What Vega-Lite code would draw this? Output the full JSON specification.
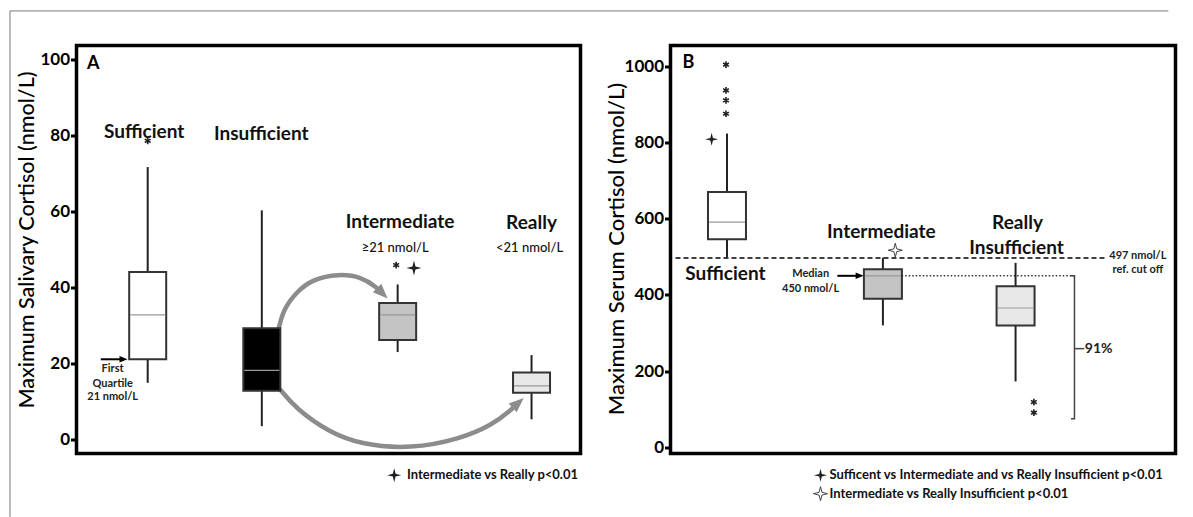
{
  "$schema": "https://vega.github.io/schema/vega-lite/v6.json",
  "padding": {"left": 7.5, "top": 8.5, "right": 0, "bottom": 0},
  "autosize": {"type": "pad"},
  "background": "white",
  "spacing": 90,
  "bounds": "flush",
  "datasets": {
    "frameA": [
      {"x": -14.48, "x2": -14.48, "y": -20.5, "y2": 112.7},
      {"x": -14.48, "x2": 220, "y": 112.7, "y2": 112.7}
    ],
    "boxA": [
      {"g": "Sufficient", "type": "sufficient", "x": 13.4, "lo": 14.8, "q1": 21.0, "med": 32.7, "q3": 44.0, "hi": 71.6},
      {"g": "Insufficient", "type": "insufficient", "x": 36.5, "lo": 3.4, "q1": 12.7, "med": 18.1, "q3": 29.2, "hi": 60.2},
      {"g": "Intermediate", "type": "intermediate", "x": 64.0, "lo": 22.9, "q1": 26.1, "med": 32.7, "q3": 35.8, "hi": 40.7},
      {"g": "Really", "type": "really", "x": 91.1, "lo": 5.2, "q1": 12.2, "med": 14.0, "q3": 17.5, "hi": 22.1}
    ],
    "curvesA": [
      {"arrow": "top", "i": 0, "x": 39.9, "y": 29.0},
      {"arrow": "top", "i": 1, "x": 40.9, "y": 34.2},
      {"arrow": "top", "i": 2, "x": 43.5, "y": 38.7},
      {"arrow": "top", "i": 3, "x": 46.8, "y": 42.1},
      {"arrow": "top", "i": 4, "x": 52.0, "y": 43.5},
      {"arrow": "top", "i": 5, "x": 56.7, "y": 42.7},
      {"arrow": "top", "i": 6, "x": 59.7, "y": 40.0},
      {"arrow": "top", "i": 7, "x": 60.9, "y": 38.4},
      {"arrow": "bottom", "i": 0, "x": 40.1, "y": 13.2},
      {"arrow": "bottom", "i": 1, "x": 43.5, "y": 7.9},
      {"arrow": "bottom", "i": 2, "x": 50.0, "y": 1.9},
      {"arrow": "bottom", "i": 3, "x": 56.7, "y": -1.5},
      {"arrow": "bottom", "i": 4, "x": 66.7, "y": -2.6},
      {"arrow": "bottom", "i": 5, "x": 76.6, "y": 0.0},
      {"arrow": "bottom", "i": 6, "x": 83.1, "y": 3.7},
      {"arrow": "bottom", "i": 7, "x": 86.7, "y": 7.4},
      {"arrow": "bottom", "i": 8, "x": 88.4, "y": 9.5}
    ],
    "headsA": [
      {"dir": "down", "x": 60.9, "y": 38.4},
      {"dir": "up", "x": 88.4, "y": 9.5}
    ],
    "qArrowA": [{"x": 3.9, "x2": 8.5, "y": 21}],
    "textA": [
      {"kind": "panel", "t": "A", "x": 2.4, "y": 98.7},
      {"kind": "group", "t": "Sufficient", "x": 12.7, "y": 80.7},
      {"kind": "group", "t": "Insufficient", "x": 36.4, "y": 80.4},
      {"kind": "group", "t": "Intermediate", "x": 64.5, "y": 57.1},
      {"kind": "group", "t": "Really", "x": 91.1, "y": 57.0},
      {"kind": "sub", "t": "≥21 nmol/L", "x": 63.5, "y": 50.3},
      {"kind": "sub", "t": "<21 nmol/L", "x": 90.7, "y": 50.3},
      {"kind": "note", "t": "First", "x": 6.3, "y": 18.4},
      {"kind": "note", "t": "Quartile", "x": 6.3, "y": 14.4},
      {"kind": "note", "t": "21 nmol/L", "x": 6.3, "y": 11.1},
      {"kind": "legend", "t": "Intermediate vs Really p<0.01", "x": 65.9, "y": -9.5}
    ],
    "starsA": [
      {"kind": "plot", "x": 67.3, "y": 45.0},
      {"kind": "legend", "x": 63.3, "y": -9.5}
    ],
    "astA": [
      {"x": 13.4, "y": 78.5},
      {"x": 63.7, "y": 45.8}
    ],
    "boxB": [
      {"g": "Sufficient", "type": "sufficient", "x": 10.4, "lo": 499, "q1": 546, "med": 591, "q3": 670, "hi": 823},
      {"g": "Intermediate", "type": "intermediate", "x": 41.9, "lo": 320, "q1": 390, "med": 450, "q3": 467, "hi": 497.5},
      {"g": "Really Insufficient", "type": "really", "x": 68.7, "lo": 173, "q1": 320, "med": 365.6, "q3": 422.5, "hi": 484}
    ],
    "rulesB": [
      {"kind": "dash", "x": 0, "x2": 86.7, "y": 497},
      {"kind": "dot", "x": 45.7, "x2": 80.6, "y": 450},
      {"kind": "plain", "x": 80.6, "x2": 82.6, "y": 259}
    ],
    "bracketB": [
      {"i": 0, "x": 79.9, "y": 450},
      {"i": 1, "x": 80.6, "y": 450},
      {"i": 2, "x": 80.6, "y": 75.3},
      {"i": 3, "x": 79.9, "y": 75.3}
    ],
    "mArrowB": [{"x": 32.7, "x2": 37.2, "y": 450}],
    "textB": [
      {"kind": "panel", "t": "B", "x": 2.6, "y": 1009},
      {"kind": "group", "t": "Sufficient", "x": 10.1, "y": 455.5},
      {"kind": "group", "t": "Intermediate", "x": 41.6, "y": 565},
      {"kind": "group", "t": "Really", "x": 69.1, "y": 588.5},
      {"kind": "group", "t": "Insufficient", "x": 68.9, "y": 523},
      {"kind": "note", "t": "Median", "x": 27.3, "y": 454},
      {"kind": "note", "t": "450 nmol/L", "x": 27.3, "y": 414.6},
      {"kind": "note", "t": "497 nmol/L", "x": 93.4, "y": 501},
      {"kind": "note", "t": "ref. cut off", "x": 93.4, "y": 464.5},
      {"kind": "pct", "t": "91%", "x": 85.5, "y": 259},
      {"kind": "legend", "t": "Sufficent vs Intermediate and  vs Really Insufficient p<0.01", "x": 31.1, "y": -73.2},
      {"kind": "legend", "t": "Intermediate vs Really Insufficient p<0.01", "x": 31.1, "y": -121.4}
    ],
    "starsB": [
      {"kind": "filled", "x": 7.3, "y": 808},
      {"kind": "open", "x": 44.4, "y": 517},
      {"kind": "filled", "x": 29.3, "y": -73.2},
      {"kind": "open", "x": 29.3, "y": -121.4}
    ],
    "astB": [
      {"x": 10.2, "y": 1003.7},
      {"x": 10.2, "y": 936.5},
      {"x": 10.2, "y": 910},
      {"x": 10.2, "y": 875},
      {"x": 72.4, "y": 119},
      {"x": 72.4, "y": 91}
    ]
  },
  "hconcat": [
    {
      "width": 504,
      "height": 408,
      "encoding": {
        "x": {"field": "x", "type": "quantitative", "scale": {"domain": [0, 100], "nice": false, "zero": false}, "axis": null},
        "y": {
          "field": "y", "type": "quantitative",
          "scale": {"domain": [-3.8, 103.6], "nice": false, "zero": false},
          "axis": {
            "values": [0, 20, 40, 60, 80, 100],
            "format": "d",
            "title": "Maximum Salivary Cortisol (nmol/L)",
            "titleX": -38, "titleY": 194, "titleAngle": 270, "titleBaseline": "bottom", "titleAlign": "center", "titleFontSize": 21.5
          }
        }
      },
      "layer": [
        {"data": {"name": "frameA"}, "mark": {"type": "rule", "color": "#7a7a7a", "strokeWidth": 1}, "encoding": {"x2": {"field": "x2"}, "y2": {"field": "y2"}}},
        {"data": {"name": "curvesA"}, "mark": {"type": "line", "interpolate": "basis", "color": "#8c8c8c", "strokeWidth": 4.5}, "encoding": {"detail": {"field": "arrow"}, "order": {"field": "i", "type": "quantitative"}}},
        {"data": {"name": "headsA"}, "transform": [{"filter": "datum.dir == 'down'"}], "mark": {"type": "point", "shape": "M1,0L-1,-0.8L-1,0.8Z", "filled": true, "color": "#8c8c8c", "size": 220, "angle": 45, "opacity": 1}},
        {"data": {"name": "headsA"}, "transform": [{"filter": "datum.dir == 'up'"}], "mark": {"type": "point", "shape": "M1,0L-1,-0.8L-1,0.8Z", "filled": true, "color": "#8c8c8c", "size": 220, "angle": 318, "opacity": 1}},
        {"data": {"name": "boxA"}, "mark": {"type": "rule", "color": "#222222", "strokeWidth": 2}, "encoding": {"y": {"field": "lo"}, "y2": {"field": "hi"}}},
        {
          "data": {"name": "boxA"},
          "mark": {"type": "bar", "size": 37, "stroke": "#333333", "strokeWidth": 2},
          "encoding": {
            "y": {"field": "q1"},
            "y2": {"field": "q3"},
            "fill": {"field": "type", "type": "nominal", "scale": {"domain": ["sufficient", "insufficient", "intermediate", "really"], "range": ["#ffffff", "#000000", "#c4c4c4", "#e8e8e8"]}, "legend": null}
          }
        },
        {"data": {"name": "boxA"}, "mark": {"type": "tick", "orient": "horizontal", "size": 35, "thickness": 1.2, "color": "#999999", "opacity": 1}, "encoding": {"y": {"field": "med"}}},
        {"data": {"name": "qArrowA"}, "mark": {"type": "rule", "color": "black", "strokeWidth": 2}, "encoding": {"x2": {"field": "x2"}}},
        {"data": {"name": "qArrowA"}, "mark": {"type": "point", "shape": "M1,0L-1,-0.8L-1,0.8Z", "filled": true, "color": "black", "size": 64, "opacity": 1}, "encoding": {"x": {"field": "x2"}}},
        {"data": {"name": "textA"}, "transform": [{"filter": "datum.kind == 'panel'"}], "mark": {"type": "text", "font": "Lato", "fontSize": 18, "fontWeight": "bold", "color": "black", "align": "center", "baseline": "middle"}, "encoding": {"text": {"field": "t"}}},
        {"data": {"name": "textA"}, "transform": [{"filter": "datum.kind == 'group'"}], "mark": {"type": "text", "font": "Lato", "fontSize": 19, "fontWeight": "bold", "color": "#111111", "align": "center", "baseline": "middle"}, "encoding": {"text": {"field": "t"}}},
        {"data": {"name": "textA"}, "transform": [{"filter": "datum.kind == 'sub'"}], "mark": {"type": "text", "font": "Lato", "fontSize": 13, "fontWeight": 500, "color": "#111111", "align": "center", "baseline": "middle"}, "encoding": {"text": {"field": "t"}}},
        {"data": {"name": "textA"}, "transform": [{"filter": "datum.kind == 'note'"}], "mark": {"type": "text", "font": "Lato", "fontSize": 11, "fontWeight": "bold", "color": "#222222", "align": "center", "baseline": "middle"}, "encoding": {"text": {"field": "t"}}},
        {"data": {"name": "textA"}, "transform": [{"filter": "datum.kind == 'legend'"}], "mark": {"type": "text", "font": "Lato", "fontSize": 13, "fontWeight": "bold", "color": "#111111", "align": "left", "baseline": "middle"}, "encoding": {"text": {"field": "t"}}},
        {"data": {"name": "starsA"}, "transform": [{"filter": "datum.kind == 'plot'"}], "mark": {"type": "point", "shape": "M0,-1L0.2,-0.2L1,0L0.2,0.2L0,1L-0.2,0.2L-1,0L-0.2,-0.2Z", "filled": true, "color": "#222222", "size": 225, "opacity": 1}},
        {"data": {"name": "starsA"}, "transform": [{"filter": "datum.kind == 'legend'"}], "mark": {"type": "point", "shape": "M0,-1L0.2,-0.2L1,0L0.2,0.2L0,1L-0.2,0.2L-1,0L-0.2,-0.2Z", "filled": true, "color": "#222222", "size": 196, "opacity": 1}},
        {"data": {"name": "astA"}, "mark": {"type": "point", "shape": "M0,-1L0,1M-0.87,-0.5L0.87,0.5M-0.87,0.5L0.87,-0.5", "filled": false, "color": "#222222", "strokeWidth": 1.6, "size": 45, "opacity": 1}}
      ]
    },
    {
      "width": 505,
      "height": 408,
      "encoding": {
        "x": {"field": "x", "type": "quantitative", "scale": {"domain": [0, 100], "nice": false, "zero": false}, "axis": null},
        "y": {
          "field": "y", "type": "quantitative",
          "scale": {"domain": [-16, 1054], "nice": false, "zero": false},
          "axis": {
            "values": [0, 200, 400, 600, 800, 1000],
            "format": "d",
            "title": "Maximum Serum Cortisol (nmol/L)",
            "titleX": -42, "titleY": 203, "titleAngle": 270, "titleBaseline": "bottom", "titleAlign": "center", "titleFontSize": 22
          }
        }
      },
      "layer": [
        {"data": {"name": "rulesB"}, "transform": [{"filter": "datum.kind == 'dash'"}], "mark": {"type": "rule", "color": "black", "strokeWidth": 1.5, "strokeDash": [5, 3]}, "encoding": {"x2": {"field": "x2"}}},
        {"data": {"name": "rulesB"}, "transform": [{"filter": "datum.kind == 'dot'"}], "mark": {"type": "rule", "color": "#333333", "strokeWidth": 1.5, "strokeDash": [1.5, 2]}, "encoding": {"x2": {"field": "x2"}}},
        {"data": {"name": "rulesB"}, "transform": [{"filter": "datum.kind == 'plain'"}], "mark": {"type": "rule", "color": "#444444", "strokeWidth": 1.5}, "encoding": {"x2": {"field": "x2"}}},
        {"data": {"name": "bracketB"}, "mark": {"type": "line", "color": "#444444", "strokeWidth": 1.5}, "encoding": {"order": {"field": "i", "type": "quantitative"}}},
        {"data": {"name": "boxB"}, "mark": {"type": "rule", "color": "#222222", "strokeWidth": 2}, "encoding": {"y": {"field": "lo"}, "y2": {"field": "hi"}}},
        {
          "data": {"name": "boxB"},
          "mark": {"type": "bar", "size": 38, "stroke": "#333333", "strokeWidth": 2},
          "encoding": {
            "y": {"field": "q1"},
            "y2": {"field": "q3"},
            "fill": {"field": "type", "type": "nominal", "scale": {"domain": ["sufficient", "insufficient", "intermediate", "really"], "range": ["#ffffff", "#000000", "#c4c4c4", "#e8e8e8"]}, "legend": null}
          }
        },
        {"data": {"name": "boxB"}, "mark": {"type": "tick", "orient": "horizontal", "size": 36, "thickness": 1.2, "color": "#999999", "opacity": 1}, "encoding": {"y": {"field": "med"}}},
        {"data": {"name": "mArrowB"}, "mark": {"type": "rule", "color": "black", "strokeWidth": 2}, "encoding": {"x2": {"field": "x2"}}},
        {"data": {"name": "mArrowB"}, "mark": {"type": "point", "shape": "M1,0L-1,-0.8L-1,0.8Z", "filled": true, "color": "black", "size": 64, "opacity": 1}, "encoding": {"x": {"field": "x2"}}},
        {"data": {"name": "textB"}, "transform": [{"filter": "datum.kind == 'panel'"}], "mark": {"type": "text", "font": "Lato", "fontSize": 18, "fontWeight": "bold", "color": "black", "align": "center", "baseline": "middle"}, "encoding": {"text": {"field": "t"}}},
        {"data": {"name": "textB"}, "transform": [{"filter": "datum.kind == 'group'"}], "mark": {"type": "text", "font": "Lato", "fontSize": 19, "fontWeight": "bold", "color": "#111111", "align": "center", "baseline": "middle"}, "encoding": {"text": {"field": "t"}}},
        {"data": {"name": "textB"}, "transform": [{"filter": "datum.kind == 'note'"}], "mark": {"type": "text", "font": "Lato", "fontSize": 11, "fontWeight": "bold", "color": "#222222", "align": "center", "baseline": "middle"}, "encoding": {"text": {"field": "t"}}},
        {"data": {"name": "textB"}, "transform": [{"filter": "datum.kind == 'pct'"}], "mark": {"type": "text", "font": "Lato", "fontSize": 14, "fontWeight": "bold", "color": "#222222", "align": "center", "baseline": "middle"}, "encoding": {"text": {"field": "t"}}},
        {"data": {"name": "textB"}, "transform": [{"filter": "datum.kind == 'legend'"}], "mark": {"type": "text", "font": "Lato", "fontSize": 13, "fontWeight": "bold", "color": "#111111", "align": "left", "baseline": "middle"}, "encoding": {"text": {"field": "t"}}},
        {"data": {"name": "starsB"}, "transform": [{"filter": "datum.kind == 'filled'"}], "mark": {"type": "point", "shape": "M0,-1L0.2,-0.2L1,0L0.2,0.2L0,1L-0.2,0.2L-1,0L-0.2,-0.2Z", "filled": true, "color": "#222222", "size": 170, "opacity": 1}},
        {"data": {"name": "starsB"}, "transform": [{"filter": "datum.kind == 'open'"}], "mark": {"type": "point", "shape": "M0,-1L0.2,-0.2L1,0L0.2,0.2L0,1L-0.2,0.2L-1,0L-0.2,-0.2Z", "filled": true, "fill": "white", "stroke": "#444444", "strokeWidth": 1, "size": 200, "opacity": 1}},
        {"data": {"name": "astB"}, "mark": {"type": "point", "shape": "M0,-1L0,1M-0.87,-0.5L0.87,0.5M-0.87,0.5L0.87,-0.5", "filled": false, "color": "#222222", "strokeWidth": 1.6, "size": 45, "opacity": 1}}
      ]
    }
  ],
  "config": {
    "view": {"stroke": "black", "strokeWidth": 3.5},
    "font": "Lato",
    "axis": {
      "grid": false,
      "domain": false,
      "ticks": true,
      "tickSize": 6,
      "tickWidth": 3,
      "tickColor": "black",
      "labelFont": "Lato",
      "labelFontSize": 17,
      "labelFontWeight": "bold",
      "labelColor": "black",
      "labelPadding": 1,
      "titleFont": "Lato",
      "titleFontWeight": 500,
      "titleColor": "black"
    }
  }
}
